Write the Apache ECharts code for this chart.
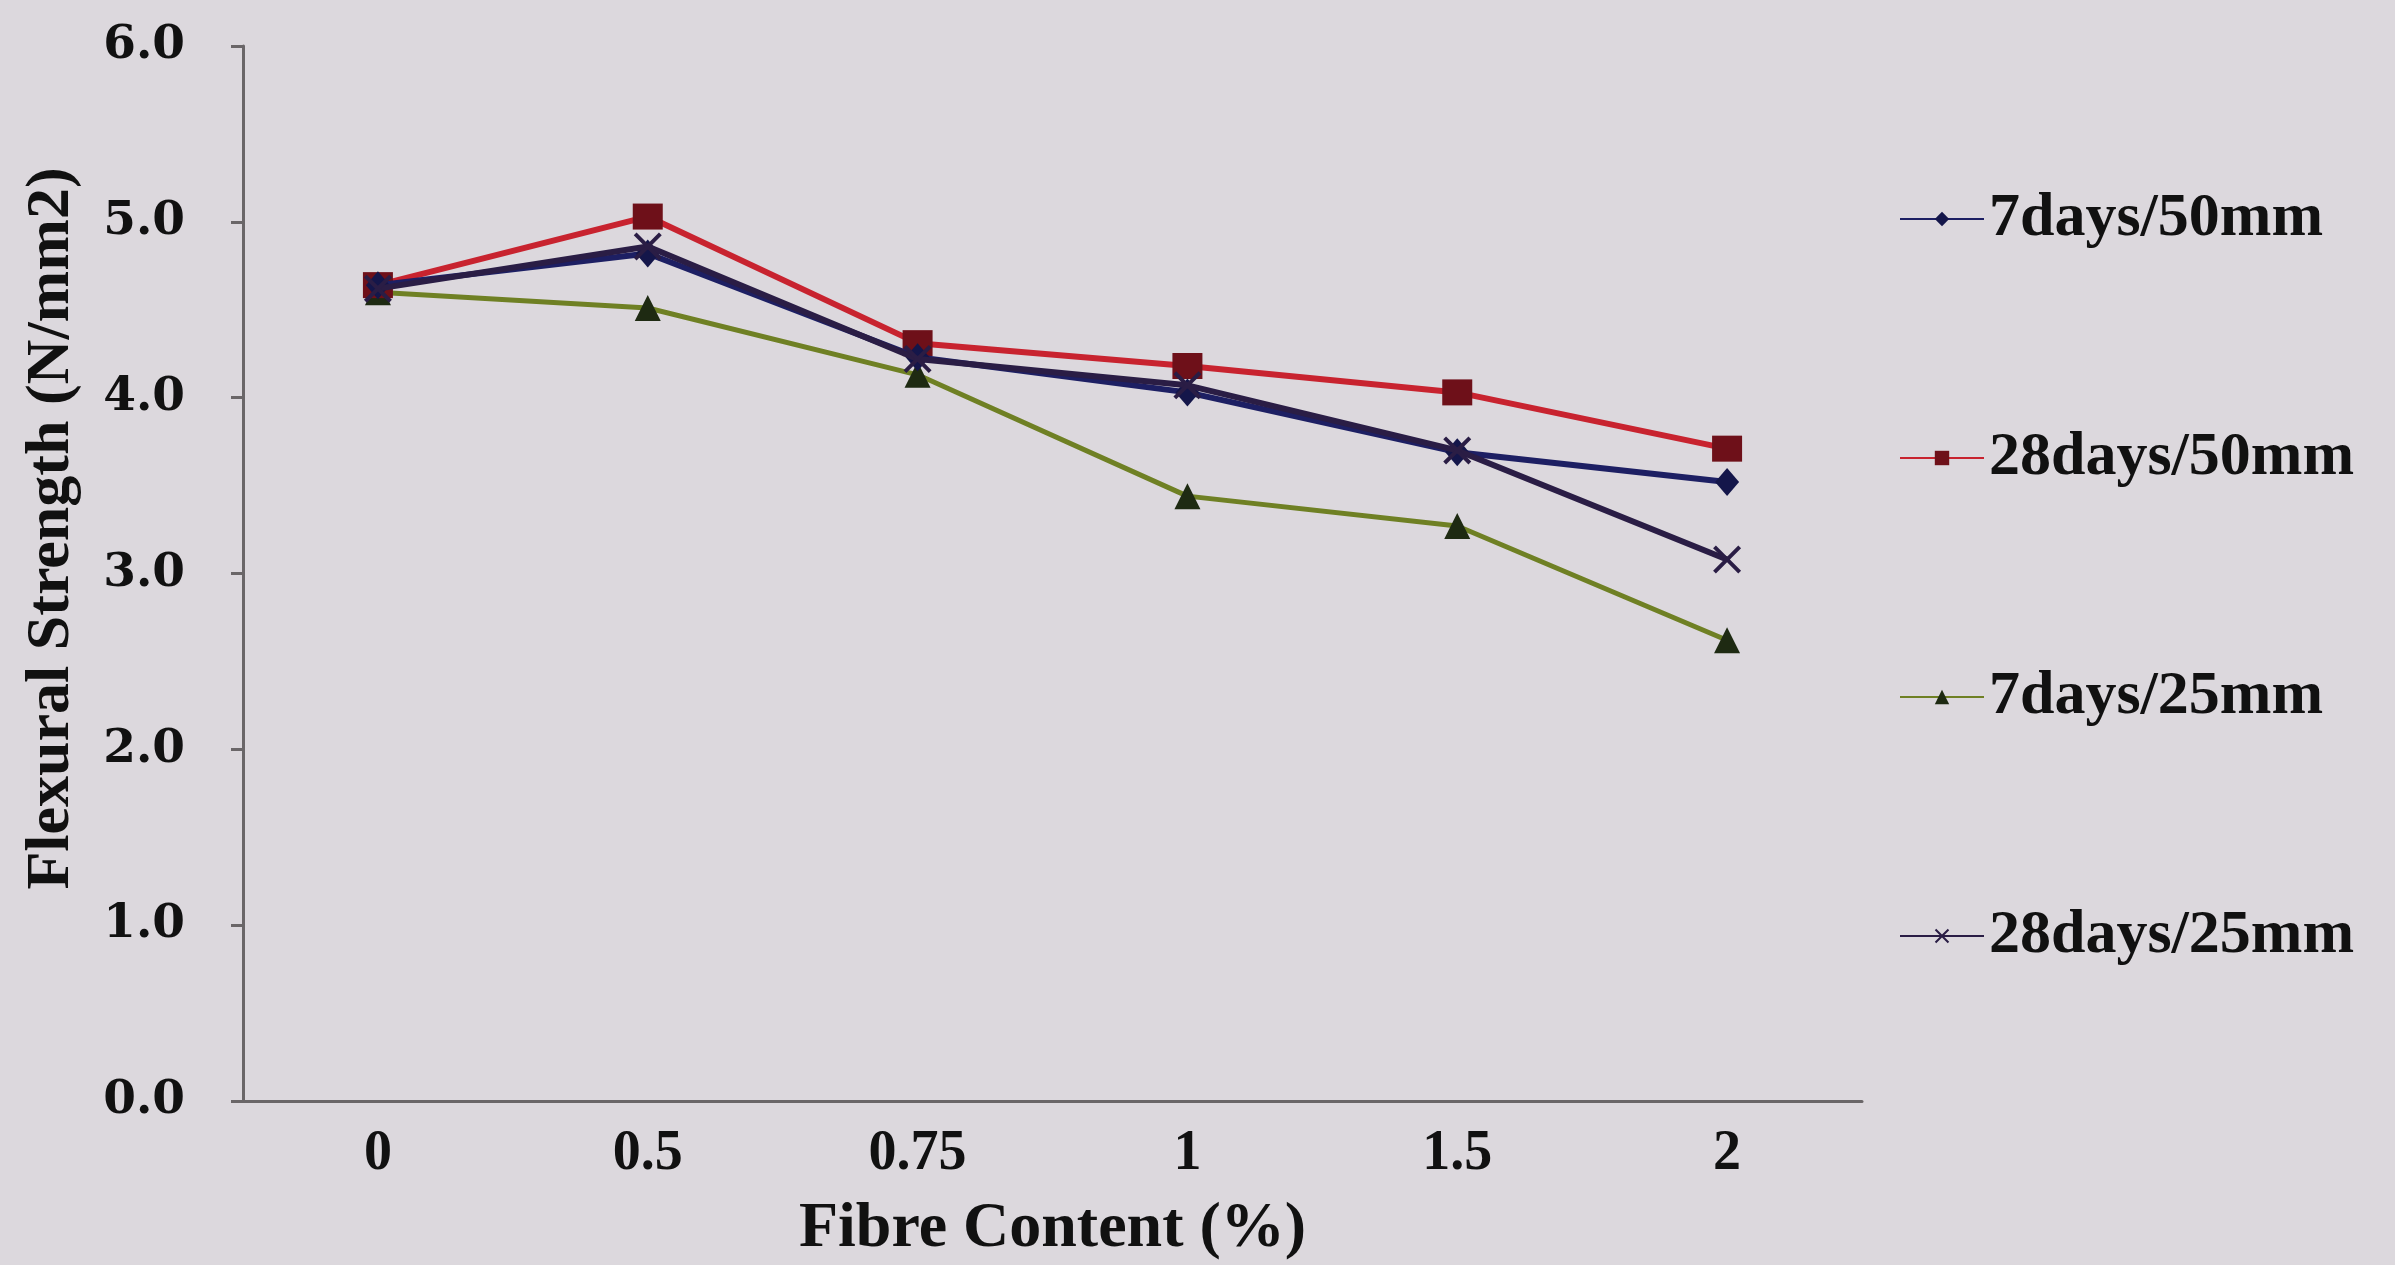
<!DOCTYPE html>
<html>
<head>
<meta charset="utf-8">
<script src="https://cdn.jsdelivr.net/npm/echarts@6/dist/echarts.min.js"></script>
<style>
  html, body { margin: 0; padding: 0; background: #dcd8dd; }
  #chart { width: 2395px; height: 1265px; }
</style>
</head>
<body>
<div id="chart"></div>
<script>
// Fibre content (%) on the x axis
const fibreContent = ['0', '0.5', '0.75', '1', '1.5', '2'];

// Flexural strength (N/mm2) per mix
const days7mm50 = [4.64, 4.82, 4.23, 4.03, 3.69, 3.52];
const days28mm50 = [4.64, 5.03, 4.31, 4.18, 4.03, 3.71];
const days7mm25 = [4.60, 4.51, 4.13, 3.44, 3.27, 2.62];
const days28mm25 = [4.62, 4.86, 4.22, 4.07, 3.70, 3.08];

const seriesNames = ['7days/50mm', '28days/50mm', '7days/25mm', '28days/25mm'];

const crossSymbol = 'path://M0,1 L1,0 L5,4 L9,0 L10,1 L6,5 L10,9 L9,10 L5,6 L1,10 L0,9 L4,5 Z';

const serif = '"Liberation Serif", "Times New Roman", serif';

const chart = echarts.init(document.getElementById('chart'));

chart.setOption({
  backgroundColor: '#dcd8dd',
  animation: false,
  grid: { left: 243, top: 46, width: 1619, height: 1055, outerBoundsMode: 'none', containLabel: false },
  legend: {
    orient: 'vertical',
    left: 1894,
    top: 183,
    itemWidth: 84,
    itemHeight: 18,
    itemGap: 177,
    data: seriesNames,
    textStyle: {
      fontFamily: serif,
      fontWeight: 'bold',
      fontSize: 62,
      lineHeight: 62,
      color: '#111'
    }
  },
  xAxis: {
    type: 'category',
    data: fibreContent,
    boundaryGap: true,
    name: 'Fibre Content (%)',
    nameLocation: 'middle',
    nameGap: 96,
    nameTextStyle: {
      fontFamily: serif,
      fontWeight: 'bold',
      fontSize: 64,
      color: '#111'
    },
    axisLine: { lineStyle: { color: '#6a6668', width: 3 } },
    axisTick: { show: false },
    axisLabel: {
      margin: 26,
      fontFamily: serif,
      fontWeight: 'bold',
      fontSize: 56,
      color: '#111'
    }
  },
  yAxis: {
    type: 'value',
    min: 0,
    max: 6,
    interval: 1,
    name: 'Flexural Strength (N/mm2)',
    nameLocation: 'middle',
    nameGap: 160,
    nameTextStyle: {
      fontFamily: serif,
      fontWeight: 'bold',
      fontSize: 62,
      color: '#111',
      padding: [0, 0, 0, 90]
    },
    splitLine: { show: false },
    axisLine: { show: true, lineStyle: { color: '#6a6668', width: 3 } },
    axisTick: { show: true, length: 12, lineStyle: { color: '#6a6668', width: 3 } },
    axisLabel: {
      margin: 58,
      formatter: v => v.toFixed(1),
      fontFamily: '"DejaVu Serif", serif',
      fontWeight: 'bold',
      fontSize: 47,
      color: '#111'
    }
  },
  series: [
    {
      name: seriesNames[2],
      type: 'line',
      data: days7mm25,
      symbol: 'triangle',
      symbolSize: 26,
      lineStyle: { color: '#6f8024', width: 5 },
      itemStyle: { color: '#1e2a12' },
      z: 2
    },
    {
      name: seriesNames[1],
      type: 'line',
      data: days28mm50,
      symbol: 'rect',
      symbolSize: [30, 26],
      lineStyle: { color: '#c8232f', width: 6 },
      itemStyle: { color: '#6e1019' },
      z: 3
    },
    {
      name: seriesNames[0],
      type: 'line',
      data: days7mm50,
      symbol: 'diamond',
      symbolSize: [24, 28],
      lineStyle: { color: '#1d1f63', width: 6 },
      itemStyle: { color: '#14164a' },
      z: 4
    },
    {
      name: seriesNames[3],
      type: 'line',
      data: days28mm25,
      symbol: crossSymbol,
      symbolSize: 28,
      lineStyle: { color: '#2a1d45', width: 6 },
      itemStyle: { color: '#2a1d45' },
      z: 5
    }
  ]
});
</script>
</body>
</html>
